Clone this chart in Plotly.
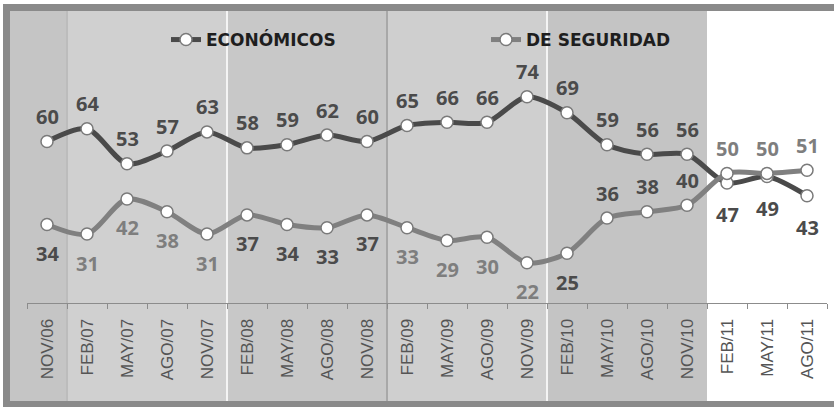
import plotly.graph_objects as go

# --- data -------------------------------------------------------------
periodos = ["NOV/06", "FEB/07", "MAY/07", "AGO/07", "NOV/07",
            "FEB/08", "MAY/08", "AGO/08", "NOV/08",
            "FEB/09", "MAY/09", "AGO/09", "NOV/09",
            "FEB/10", "MAY/10", "AGO/10", "NOV/10",
            "FEB/11", "MAY/11", "AGO/11"]
economicos = [60, 64, 53, 57, 63, 58, 59, 62, 60, 65, 66, 66, 74, 69, 59, 56, 56, 47, 49, 43]
seguridad = [34, 31, 42, 38, 31, 37, 34, 33, 37, 33, 29, 30, 22, 25, 36, 38, 40, 50, 50, 51]

# --- label placement / colours (style) ----------------------------------
eco_shift = [25] * 17 + [-32] * 3
seg_shift = [-29] * 14 + [25] * 6
DARK = "#4b4b4b"
LIGHT = "#7e7e7e"
seg_label_col = ([DARK] + [LIGHT] * 4 + [DARK] * 4 + [LIGHT] * 4 + [DARK] * 4 + [LIGHT] * 3)

W, H = 834, 407
PL, PR, PT, PB = 27, 827, 13, 303   # plot area in pixels
N = len(periodos)


def px_x(p):
    return (p - PL) / (PR - PL)


def px_y(p):
    return (PB - p) / (PB - PT)


def band_x(i):
    # paper x of the boundary before category index i
    return i / N


fig = go.Figure()

marker = dict(size=12, color="white", line=dict(color="#7a7a7a", width=1.5))

fig.add_trace(go.Scatter(
    x=periodos, y=economicos, name="ECONÓMICOS", mode="lines+markers",
    line=dict(color="#4a4a4a", width=5, shape="spline", smoothing=0.8),
    marker=marker,
))
fig.add_trace(go.Scatter(
    x=periodos, y=seguridad, name="DE SEGURIDAD", mode="lines+markers",
    line=dict(color="#808080", width=5, shape="spline", smoothing=0.8),
    marker=marker,
))

label_font = dict(family="Open Sans", size=20, color=DARK, weight="bold")
annotations = []
for i, p in enumerate(periodos):
    annotations.append(dict(x=p, y=economicos[i], text=str(economicos[i]),
                            showarrow=False, yshift=eco_shift[i],
                            font=label_font))
    annotations.append(dict(x=p, y=seguridad[i], text=str(seguridad[i]),
                            showarrow=False, yshift=seg_shift[i],
                            font=dict(label_font, color=seg_label_col[i])))

# shaded year bands
y_top, y_bot = px_y(11), px_y(401)
bands = [
    (px_x(10), band_x(1), "#c5c5c5"),
    (band_x(1), band_x(5), "#d0d0d0"),
    (band_x(5), band_x(9), "#c8c8c8"),
    (band_x(9), band_x(13), "#cfcfcf"),
    (band_x(13), band_x(17), "#c4c4c4"),
]
shapes = []
for x0, x1, col in bands:
    shapes.append(dict(type="rect", xref="paper", yref="paper", x0=x0, x1=x1,
                       y0=y_bot, y1=y_top, fillcolor=col, line_width=0, layer="below"))
# separators between year bands
for i, col in [(1, "#bcbcbc"), (5, "#f4f4f4"), (9, "#a8a8a8"), (13, "#f4f4f4")]:
    shapes.append(dict(type="line", xref="paper", yref="paper", x0=band_x(i), x1=band_x(i),
                       y0=y_bot, y1=y_top, line=dict(color=col, width=2), layer="below"))

# outer frame
frame = "#8a8a8a"
shapes += [
    dict(type="rect", xref="paper", yref="paper", x0=px_x(3), x1=px_x(834),
         y0=px_y(11), y1=px_y(4), fillcolor=frame, line_width=0, layer="below"),
    dict(type="rect", xref="paper", yref="paper", x0=px_x(3), x1=px_x(10),
         y0=px_y(407), y1=px_y(4), fillcolor=frame, line_width=0, layer="below"),
    dict(type="rect", xref="paper", yref="paper", x0=px_x(3), x1=px_x(834),
         y0=px_y(407), y1=px_y(401), fillcolor=frame, line_width=0, layer="below"),
]

fig.update_layout(
    width=W, height=H,
    margin=dict(l=PL, r=W - PR, t=PT, b=H - PB, autoexpand=False),
    paper_bgcolor="white", plot_bgcolor="rgba(0,0,0,0)",
    showlegend=True,
    legend=dict(orientation="h", x=px_x(166), y=px_y(22), xanchor="left", yanchor="top",
                bgcolor="rgba(0,0,0,0)", entrywidth=275, entrywidthmode="pixels",
                font=dict(family="DejaVu Sans", size=17, color="#1e1e1e", weight="bold")),
    xaxis=dict(type="category", range=[-0.5, N - 0.5], showgrid=False,
               showline=True, linecolor="#8c8c8c", linewidth=1,
               ticks="outside", ticklen=5, tickcolor="#8c8c8c", tickson="boundaries",
               tickangle=-90, ticklabelstandoff=8,
               tickfont=dict(family="Liberation Sans", size=17, color="#555555"),
               fixedrange=True),
    yaxis=dict(range=[9.4, 100.25], visible=False, showgrid=False, fixedrange=True),
    shapes=shapes,
    annotations=annotations,
)

fig.write_html("out.html")
